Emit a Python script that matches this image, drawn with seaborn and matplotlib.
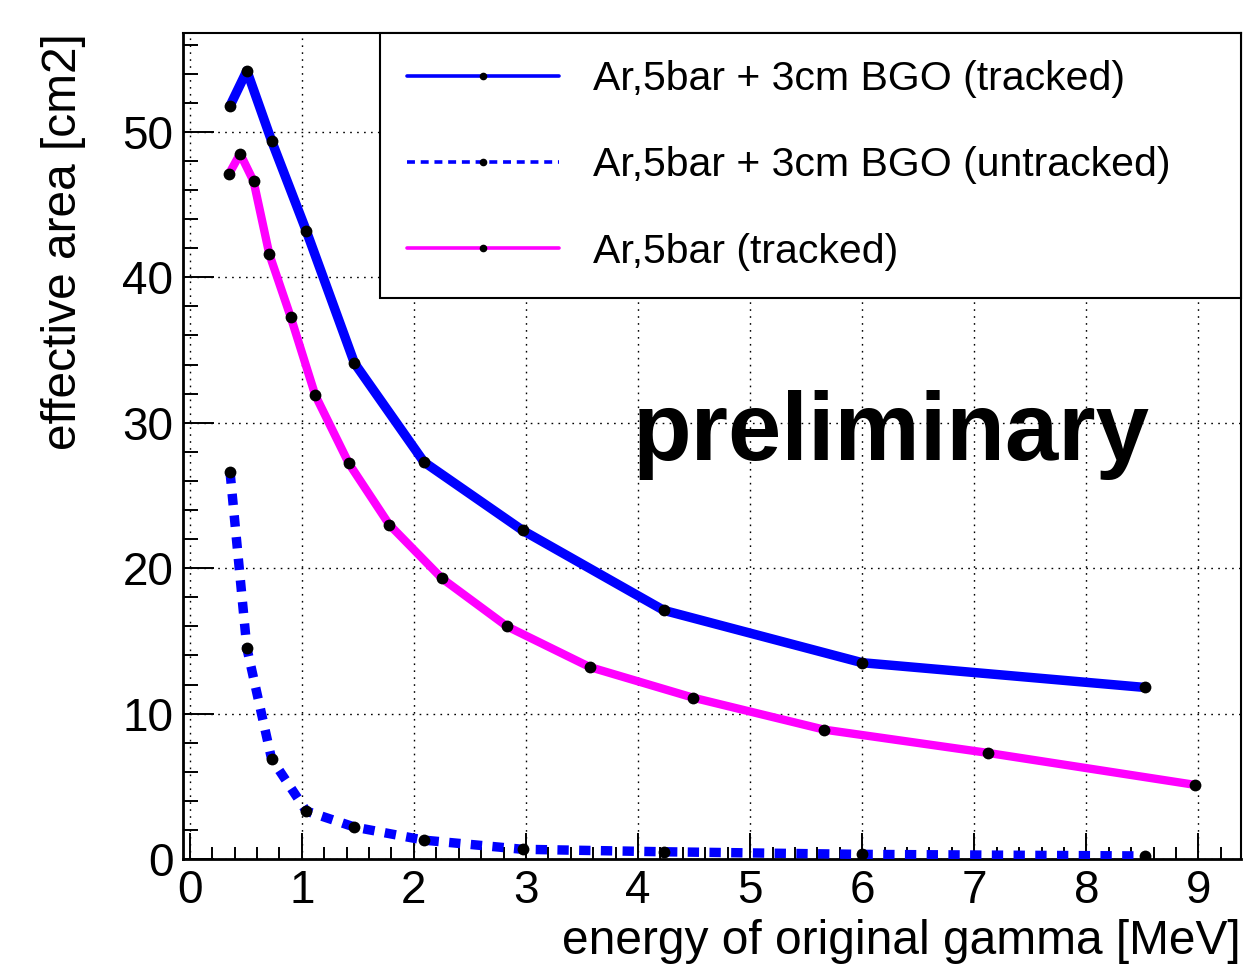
import numpy as np
import pandas as pd
import matplotlib
matplotlib.use("Agg")
import matplotlib.pyplot as plt
from matplotlib.lines import Line2D
from matplotlib.ticker import MultipleLocator
import seaborn as sns

# ── data ──
energy_bgo = [0.36, 0.51, 0.73, 1.04, 1.47, 2.09, 2.97, 4.23, 6.00, 8.52]
area_bgo_tracked = [51.8, 54.2, 49.4, 43.2, 34.1, 27.3, 22.6, 17.1, 13.5, 11.8]
area_bgo_untracked = [26.6, 14.5, 6.9, 3.3, 2.2, 1.3, 0.67, 0.5, 0.32, 0.21]

energy_ar = [0.35, 0.45, 0.57, 0.71, 0.90, 1.12, 1.42, 1.78, 2.25, 2.83,
             3.57, 4.49, 5.66, 7.12, 8.97]
area_ar_tracked = [47.1, 48.5, 46.6, 41.6, 37.3, 31.9, 27.2, 23.0, 19.3, 16.0,
                   13.2, 11.1, 8.9, 7.3, 5.1]

labels = ["Ar,5bar + 3cm BGO (tracked)",
          "Ar,5bar + 3cm BGO (untracked)",
          "Ar,5bar (tracked)"]
x_ticks = list(range(0, 10))
y_ticks = [0, 10, 20, 30, 40, 50]

BLUE = "#0000ff"
MAGENTA = "#ff00ff"
DASH = (0, (1.2, 1.1))

sns.set_theme(style="white")
plt.rcParams["font.family"] = ["Liberation Sans", "DejaVu Sans"]
plt.rcParams["text.color"] = "black"
plt.rcParams["axes.labelcolor"] = "black"

df_bgo = pd.DataFrame({"E": energy_bgo, "tracked": area_bgo_tracked,
                       "untracked": area_bgo_untracked})
df_ar = pd.DataFrame({"E": energy_ar, "tracked": area_ar_tracked})

fig = plt.figure(figsize=(12.44, 9.65), dpi=100)
ax = fig.add_axes([0.1471, 0.1098, 0.8505, 0.856])

mk = dict(marker="o", markersize=8.5, markerfacecolor="black",
          markeredgecolor="black", markeredgewidth=0)
sns.lineplot(data=df_bgo, x="E", y="tracked", ax=ax, color=BLUE, lw=6.8,
             sort=False, legend=False, zorder=3, **mk)
sns.lineplot(data=df_bgo, x="E", y="untracked", ax=ax, color=BLUE, lw=6.8,
             linestyle=DASH, sort=False, legend=False, zorder=3, **mk)
sns.lineplot(data=df_ar, x="E", y="tracked", ax=ax, color=MAGENTA, lw=6.0,
             sort=False, legend=False, zorder=3, **mk)

ax.set_xlim(-0.06, 9.38)
ax.set_ylim(0, 56.8)
ax.set_xticks(x_ticks)
ax.set_yticks(y_ticks)
ax.xaxis.set_minor_locator(MultipleLocator(0.2))
ax.yaxis.set_minor_locator(MultipleLocator(2))
ax.tick_params(axis="both", which="both", direction="in", colors="black",
               width=1.4, labelsize=33, bottom=True, left=True,
               top=False, right=False)
ax.tick_params(axis="x", which="major", length=18.5, pad=7)
ax.tick_params(axis="x", which="minor", length=8.3)
ax.tick_params(axis="y", which="major", length=22, pad=7)
ax.tick_params(axis="y", which="minor", length=10.8)
ax.grid(True, which="major", color="black", lw=1.0, linestyle=(0, (1.2, 3.8)))
ax.set_axisbelow(True)
for s in ax.spines.values():
    s.set_color("black")
    s.set_linewidth(1.5)
ax.spines["left"].set_linewidth(2.0)
ax.spines["bottom"].set_linewidth(2.0)

ax.set_xlabel("energy of original gamma [MeV]", fontsize=34.5, loc="right")
ax.set_ylabel("effective area [cm2]", fontsize=34.5, loc="top")
ax.xaxis.set_label_coords(1.0, -0.073)
ax.yaxis.set_label_coords(-0.092, 1.0)

ax.text(3.95, 27.45, "preliminary", fontsize=69, fontweight="bold",
        color="black", ha="left", va="baseline", zorder=4)

handles = [
    Line2D([], [], color=BLUE, lw=2.6, marker="o", markersize=4.5,
           markerfacecolor="black", markeredgecolor="black"),
    Line2D([], [], color=BLUE, lw=2.6, linestyle=(0, (2.2, 1.6)), marker="o",
           markersize=4.5, markerfacecolor="black", markeredgecolor="black"),
    Line2D([], [], color=MAGENTA, lw=2.6, marker="o", markersize=4.5,
           markerfacecolor="black", markeredgecolor="black"),
]
leg = ax.legend(handles, labels, loc="upper left",
                bbox_to_anchor=(0.1862, 0.0, 0.8138, 1.0), mode="expand",
                borderaxespad=0, fontsize=29.5, numpoints=1, frameon=True,
                fancybox=False, framealpha=1, edgecolor="black",
                handlelength=3.7, handletextpad=0.84, labelspacing=1.18,
                borderpad=0.66)
leg.get_frame().set_linewidth(1.5)
leg.set_zorder(5)
for t in leg.get_texts():
    t.set_color("black")

fig.savefig("out.png", dpi=100)
